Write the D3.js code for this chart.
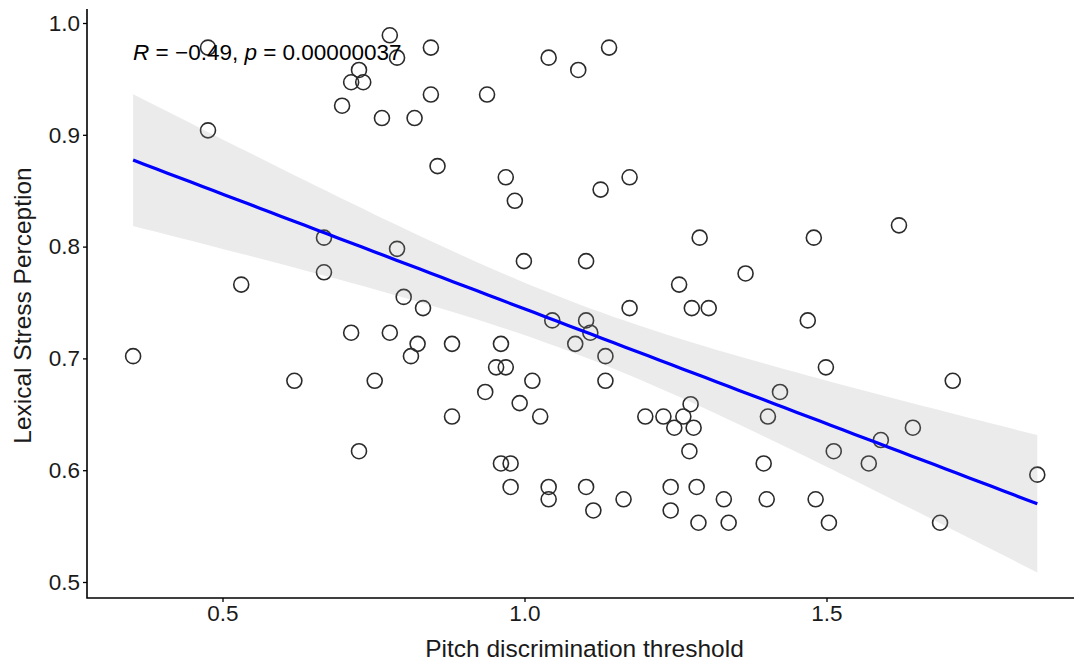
<!DOCTYPE html>
<html>
<head>
<meta charset="utf-8">
<script src="https://cdn.jsdelivr.net/npm/d3@7"></script>
<style>
  body { margin: 0; background: #fff; }
  svg { display: block; font-family: "Liberation Sans", Arial, Helvetica, sans-serif; }
</style>
</head>
<body>
<svg id="chart" width="1074" height="665"></svg>
<script>
// Pitch discrimination threshold (x) and Lexical Stress Perception (y)
const pitchThreshold = [
  0.352, 0.476, 0.476, 0.531, 0.619, 0.668, 0.668, 0.698, 0.713, 0.726,
  0.733, 0.713, 0.726, 0.752, 0.764, 0.777, 0.789, 0.777, 0.789, 0.800,
  0.812, 0.818, 0.823, 0.832, 0.845, 0.845, 0.856, 0.880, 0.880, 0.938,
  0.935, 0.953, 0.961, 0.961, 0.969, 0.969, 0.977, 0.977, 0.984, 0.992,
  0.999, 1.013, 1.026, 1.040, 1.040, 1.040, 1.046, 1.084, 1.089, 1.102,
  1.102, 1.102, 1.109, 1.114, 1.126, 1.134, 1.134, 1.140, 1.164, 1.174,
  1.174, 1.200, 1.230, 1.242, 1.242, 1.248, 1.263, 1.275, 1.273, 1.256,
  1.280, 1.277, 1.285, 1.288, 1.290, 1.305, 1.330, 1.338, 1.366, 1.396,
  1.401, 1.403, 1.423, 1.469, 1.479, 1.482, 1.499, 1.504, 1.512, 1.570,
  1.590, 1.620, 1.643, 1.688, 1.709, 1.849
];
const stressPerception = [
  0.702, 0.978, 0.904, 0.766, 0.680, 0.808, 0.777, 0.926, 0.947, 0.958,
  0.947, 0.723, 0.617, 0.680, 0.915, 0.989, 0.969, 0.723, 0.798, 0.755,
  0.702, 0.915, 0.713, 0.745, 0.978, 0.936, 0.872, 0.713, 0.648, 0.936,
  0.670, 0.692, 0.713, 0.606, 0.862, 0.692, 0.606, 0.585, 0.841, 0.660,
  0.787, 0.680, 0.648, 0.969, 0.585, 0.574, 0.734, 0.713, 0.958, 0.787,
  0.734, 0.585, 0.723, 0.564, 0.851, 0.702, 0.680, 0.978, 0.574, 0.862,
  0.745, 0.648, 0.648, 0.585, 0.564, 0.638, 0.648, 0.659, 0.617, 0.766,
  0.638, 0.745, 0.585, 0.553, 0.808, 0.745, 0.574, 0.553, 0.776, 0.606,
  0.574, 0.648, 0.670, 0.734, 0.808, 0.574, 0.692, 0.553, 0.617, 0.606,
  0.627, 0.819, 0.638, 0.553, 0.680, 0.596
];
const xTicks = [0.5, 1.0, 1.5];
const yTicks = [0.5, 0.6, 0.7, 0.8, 0.9, 1.0];
const xTitle = "Pitch discrimination threshold";
const yTitle = "Lexical Stress Perception";
const corR = "−0.49";
const corP = "0.00000037";

const svg = d3.select("#chart");
const x = d3.scaleLinear().domain([0.5, 1.5]).range([222.5, 826.5]);
const y = d3.scaleLinear().domain([0.5, 1.0]).range([582, 23]);
const panel = { left: 87, right: 1074, top: 9, bottom: 598 };

// points
const pts = pitchThreshold.map((v, i) => ({ x: v, y: stressPerception[i] }));
svg.append("g").selectAll("circle").data(pts).enter().append("circle")
  .attr("cx", d => x(d.x)).attr("cy", d => y(d.y)).attr("r", 7.5)
  .attr("fill", "none").attr("stroke", "#2b2b2b").attr("stroke-width", 1.6);

// linear regression with 95% CI
const n = pts.length;
const mx = d3.mean(pitchThreshold), my = d3.mean(stressPerception);
let sxx = 0, sxy = 0;
pts.forEach(p => { sxx += (p.x - mx) ** 2; sxy += (p.x - mx) * (p.y - my); });
const slope = sxy / sxx, intercept = my - slope * mx;
let sse = 0;
pts.forEach(p => { sse += (p.y - (intercept + slope * p.x)) ** 2; });
const s = Math.sqrt(sse / (n - 2));
const tq = 1.9855;
const [xmin, xmax] = d3.extent(pitchThreshold);
const grid = d3.range(80).map(i => xmin + (xmax - xmin) * i / 79);
const fit = grid.map(g => {
  const f = intercept + slope * g;
  const se = s * Math.sqrt(1 / n + (g - mx) ** 2 / sxx);
  return { x: g, y: f, lo: f - tq * se, hi: f + tq * se };
});

svg.append("path").datum(fit)
  .attr("d", d3.area().x(d => x(d.x)).y0(d => y(d.lo)).y1(d => y(d.hi)))
  .attr("fill", "#999").attr("fill-opacity", 0.2);
svg.append("path").datum(fit)
  .attr("d", d3.line().x(d => x(d.x)).y(d => y(d.y)))
  .attr("fill", "none").attr("stroke", "#0000ff").attr("stroke-width", 3.2);

// axes
const xAxis = svg.append("g").attr("transform", `translate(0,${panel.bottom})`)
  .call(d3.axisBottom(x).tickValues(xTicks).tickFormat(d3.format(".1f")).tickSize(4).tickPadding(3));
xAxis.select(".domain").remove();
xAxis.selectAll("text").attr("font-size", 22.5).attr("fill", "#1a1a1a").attr("font-family", null);
xAxis.selectAll("line").attr("stroke", "#000").attr("stroke-width", 1.3);

const yAxis = svg.append("g").attr("transform", `translate(${panel.left},0)`)
  .call(d3.axisLeft(y).tickValues(yTicks).tickFormat(d3.format(".1f")).tickSize(4).tickPadding(3));
yAxis.select(".domain").remove();
yAxis.selectAll("text").attr("font-size", 22.5).attr("fill", "#1a1a1a").attr("font-family", null);
yAxis.selectAll("line").attr("stroke", "#000").attr("stroke-width", 1.3);

svg.append("path")
  .attr("d", `M${panel.left},${panel.top}V${panel.bottom}H${panel.right}`)
  .attr("fill", "none").attr("stroke", "#000").attr("stroke-width", 1.6);

// titles
svg.append("text").attr("x", (panel.left + 1082) / 2).attr("y", 657)
  .attr("text-anchor", "middle").attr("font-size", 24.5).attr("fill", "#1a1a1a").text(xTitle);
svg.append("text").attr("transform", `translate(31,${(panel.top + panel.bottom) / 2 + 2}) rotate(-90)`)
  .attr("text-anchor", "middle").attr("font-size", 24.5).attr("fill", "#1a1a1a").text(yTitle);

// correlation label
const lab = svg.append("text").attr("x", x(xmin)).attr("y", 60).attr("font-size", 22.5).attr("fill", "#000");
lab.append("tspan").attr("font-style", "italic").text("R");
lab.append("tspan").text(" = " + corR + ", ");
lab.append("tspan").attr("font-style", "italic").text("p");
lab.append("tspan").text(" = " + corP);
</script>
</body>
</html>
